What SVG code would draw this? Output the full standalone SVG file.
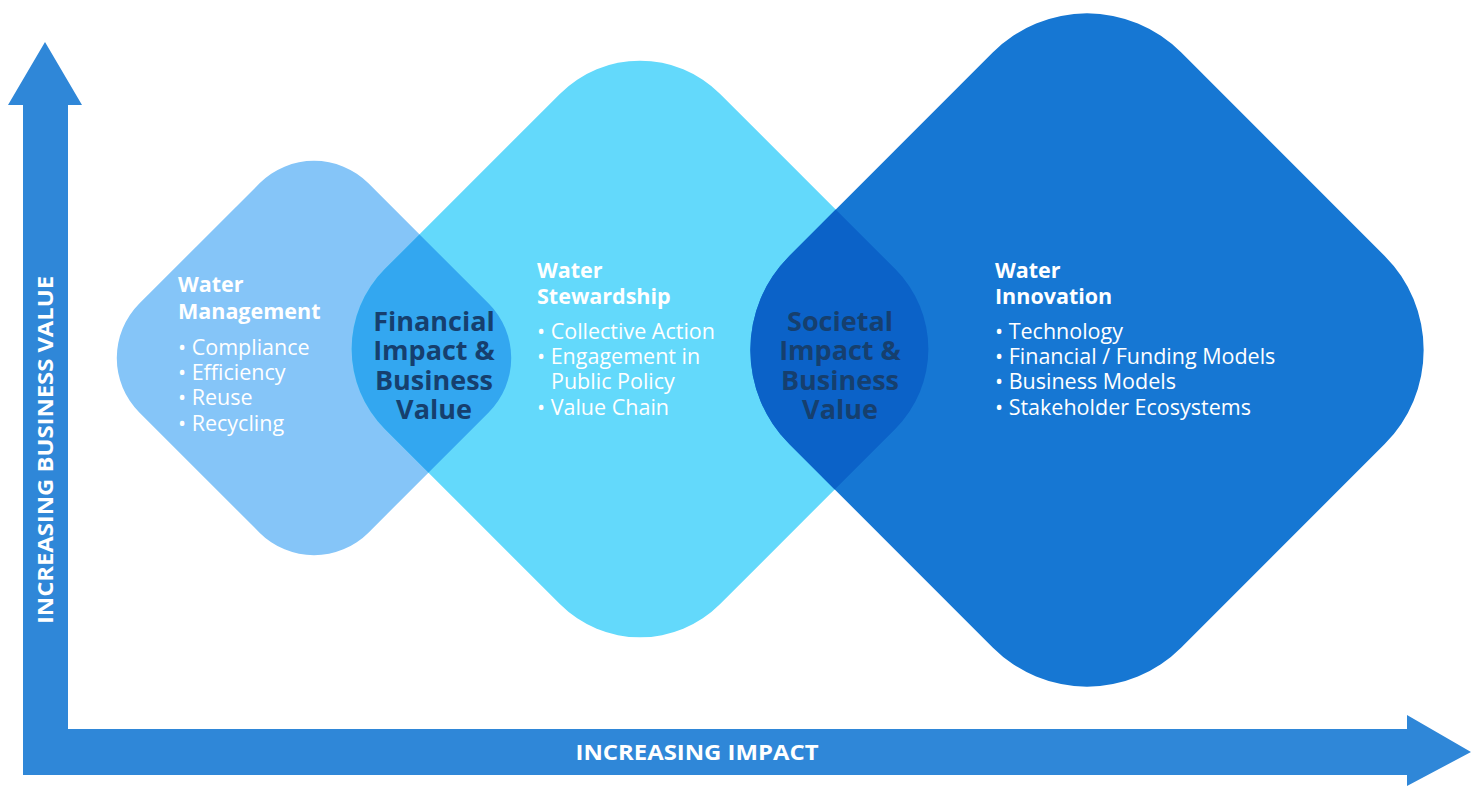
<svg xmlns="http://www.w3.org/2000/svg" width="1484" height="786" viewBox="0 0 1484 786">
<style>
.axis{fill:#2f87d8}
.axlbl{font-family:"Open Sans","Liberation Sans",sans-serif;font-weight:bold;font-size:22px;fill:#ffffff}
.hd{font-family:"Open Sans","Liberation Sans",sans-serif;font-weight:bold;font-size:21.5px;fill:#ffffff}
.bl{font-family:"Open Sans","Liberation Sans",sans-serif;font-size:21.5px;fill:#ffffff}
.lens{font-family:"Open Sans","Liberation Sans",sans-serif;font-weight:bold;font-size:27px;fill:#163f6e;text-anchor:middle}
</style>
<defs>
<rect id="dLight" x="-162" y="-162" width="324" height="324" rx="77" transform="translate(314,358) rotate(45)"/>
<rect id="dMed" x="-237" y="-237" width="474" height="474" rx="113" transform="translate(640,349) rotate(45)"/>
<rect id="dDark" x="-277" y="-277" width="554" height="554" rx="133" transform="translate(1087,350) rotate(45)"/>
<clipPath id="clipMed"><use href="#dMed"/></clipPath>
</defs>
<rect width="1484" height="786" fill="#ffffff"/>
<g id="connectors">
<path class="axis" d="M23,775 V105 H8 L45,42 L82,105 H68 V775 Z"/>
<path class="axis" d="M68,729 H1407 V715 L1471,752 L1407,786 V775 H68 Z"/>
</g>
<g id="water-management"><use href="#dLight" fill="#85c5f8"/></g>
<g id="water-stewardship"><use href="#dMed" fill="#63d9fb"/></g>
<g id="water-innovation"><use href="#dDark" fill="#1677d3"/></g>
<g id="financial-impact">
<g clip-path="url(#clipMed)"><use href="#dLight" fill="#33a7f0"/></g>
<text class="lens" x="434" y="331">Financial</text>
<text class="lens" x="434" y="360">Impact &amp;</text>
<text class="lens" x="434" y="390">Business</text>
<text class="lens" x="434" y="419">Value</text>
</g>
<g id="societal-impact">
<g clip-path="url(#clipMed)"><use href="#dDark" fill="#0b62c8"/></g>
<text class="lens" x="840" y="331">Societal</text>
<text class="lens" x="840" y="360">Impact &amp;</text>
<text class="lens" x="840" y="390">Business</text>
<text class="lens" x="840" y="419">Value</text>
</g>
<g id="wm-text">
<text class="hd" x="178" y="292">Water</text>
<text class="hd" x="178" y="319">Management</text>
<text class="bl" x="178" y="355">• Compliance</text>
<text class="bl" x="178" y="380">• Efficiency</text>
<text class="bl" x="178" y="405">• Reuse</text>
<text class="bl" x="178" y="431">• Recycling</text>
</g>
<g id="ws-text">
<text class="hd" x="537" y="278">Water</text>
<text class="hd" x="537" y="304">Stewardship</text>
<text class="bl" x="537" y="339">• Collective Action</text>
<text class="bl" x="537" y="364">• Engagement in</text>
<text class="bl" x="551" y="389">Public Policy</text>
<text class="bl" x="537" y="415">• Value Chain</text>
</g>
<g id="wi-text">
<text class="hd" x="995" y="278">Water</text>
<text class="hd" x="995" y="304">Innovation</text>
<text class="bl" x="995" y="339">• Technology</text>
<text class="bl" x="995" y="364">• Financial / Funding Models</text>
<text class="bl" x="995" y="389">• Business Models</text>
<text class="bl" x="995" y="415">• Stakeholder Ecosystems</text>
</g>
<g id="axis-labels">
<text class="axlbl" x="697" y="760" text-anchor="middle" textLength="243" lengthAdjust="spacingAndGlyphs">INCREASING IMPACT</text>
<text class="axlbl" transform="translate(53,450) rotate(-90)" text-anchor="middle" textLength="348" lengthAdjust="spacingAndGlyphs">INCREASING BUSINESS VALUE</text>
</g>
</svg>
